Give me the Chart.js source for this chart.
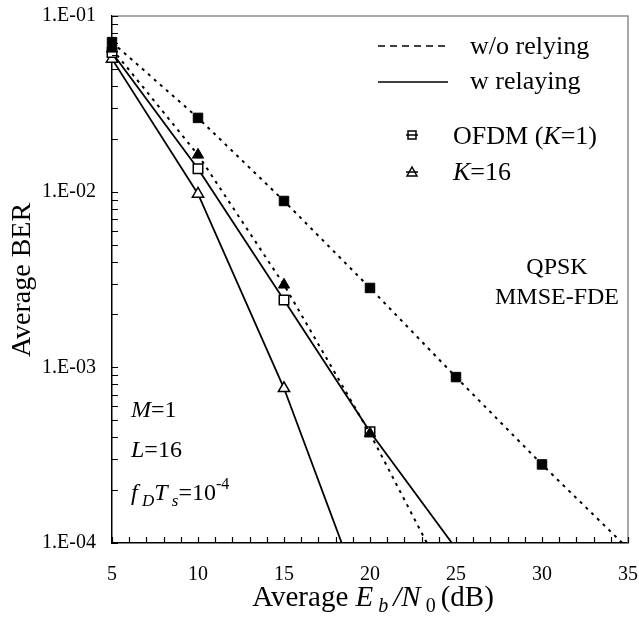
<!DOCTYPE html>
<html>
<head>
<meta charset="utf-8">
<script src="https://cdn.jsdelivr.net/npm/chart.js@4.4.1/dist/chart.umd.min.js"></script>
<style>
  html, body { margin: 0; padding: 0; background: #fff; }
</style>
</head>
<body>
<canvas id="c" width="639" height="621"></canvas>
<script>
// Eb/N0 in dB
const snr = [5, 10, 15, 20, 25, 30, 35];
// average BER
const ofdmNoRelay = [7.1e-2, 2.63e-2, 8.85e-3, 2.83e-3, 8.8e-4, 2.8e-4, 9.3e-5];
const k16NoRelay = [6.5e-2, 1.62e-2, 2.95e-3, 4.2e-4, 4.8e-5];
const ofdmRelay = [6.2e-2, 1.35e-2, 2.42e-3, 4.3e-4, 9.3e-5];
const k16Relay = [5.7e-2, 9.7e-3, 7.6e-4, 3.7e-5];
const yTicks = [1e-4, 1e-3, 1e-2, 1e-1];

const serif = '"Liberation Serif", "Times New Roman", serif';

function pts(vals) {
  return vals.map((v, i) => ({ x: snr[i], y: v }));
}

function font(r, size) {
  return (r.i ? 'italic ' : '') + Math.round(size * (r.s || 1)) + 'px ' + serif;
}

// draws a row of text pieces (italic, subscript, superscript)
function drawRuns(ctx, x, y, runs, size, align) {
  let w = 0;
  runs.forEach(r => { ctx.font = font(r, size); r.w = ctx.measureText(r.t).width; w += r.w; });
  let cx = align === 'center' ? x - w / 2 : x;
  ctx.textAlign = 'left';
  ctx.textBaseline = 'middle';
  runs.forEach(r => {
    ctx.font = font(r, size);
    ctx.fillText(r.t, cx, y + (r.dy || 0) * size);
    cx += r.w;
  });
}

function marker(ctx, style, x, y, fill) {
  ctx.save();
  ctx.lineWidth = 1.5;
  ctx.strokeStyle = '#000';
  ctx.fillStyle = fill ? '#000' : '#fff';
  ctx.beginPath();
  if (style === 'rect') {
    ctx.rect(x - 4, y - 4, 8, 8);
  } else {
    ctx.moveTo(x, y - 5);
    ctx.lineTo(x + 5, y + 4);
    ctx.lineTo(x - 5, y + 4);
    ctx.closePath();
  }
  ctx.fill();
  ctx.stroke();
  ctx.beginPath();
  ctx.moveTo(x - 6, y);
  ctx.lineTo(x + 6, y);
  ctx.stroke();
  ctx.restore();
}

const extras = {
  id: 'extras',
  afterDraw(chart) {
    const ctx = chart.ctx, a = chart.chartArea;
    const xs = chart.scales.x, ys = chart.scales.y;
    ctx.save();
    // top and right frame
    ctx.strokeStyle = '#8c8c8c';
    ctx.lineWidth = 1.5;
    ctx.beginPath();
    ctx.moveTo(a.left, a.top);
    ctx.lineTo(a.right, a.top);
    ctx.lineTo(a.right, a.bottom);
    ctx.stroke();

    // inward tick marks
    ctx.strokeStyle = '#000';
    ctx.lineWidth = 1.2;
    ctx.beginPath();
    for (let v = 5; v <= 35; v++) {
      const px = Math.round(xs.getPixelForValue(v)) + 0.5;
      ctx.moveTo(px, a.bottom);
      ctx.lineTo(px, a.bottom - 6);
    }
    for (let d = -4; d <= -1; d++) {
      for (let m = 1; m <= 9; m++) {
        const v = m * Math.pow(10, d);
        if (v > 0.1 * 1.0001) break;
        const py = Math.round(ys.getPixelForValue(v)) + 0.5;
        ctx.moveTo(a.left, py);
        ctx.lineTo(a.left + 6, py);
      }
    }
    ctx.stroke();

    // legend
    ctx.fillStyle = '#000';
    ctx.lineWidth = 1.5;
    ctx.setLineDash([7, 5]);
    ctx.beginPath();
    ctx.moveTo(378, 46); ctx.lineTo(448, 46);
    ctx.stroke();
    ctx.setLineDash([]);
    ctx.beginPath();
    ctx.moveTo(378, 82); ctx.lineTo(448, 82);
    ctx.stroke();
    drawRuns(ctx, 470, 47, [{ t: 'w/o relying' }], 25.5, 'left');
    drawRuns(ctx, 470, 82, [{ t: 'w relaying' }], 25.5, 'left');
    marker(ctx, 'rect', 412, 135, false);
    marker(ctx, 'triangle', 412, 172, false);
    drawRuns(ctx, 453, 137, [{ t: 'OFDM (' }, { t: 'K', i: 1 }, { t: '=1)' }], 25.5, 'left');
    drawRuns(ctx, 453, 173, [{ t: 'K', i: 1 }, { t: '=16' }], 25.5, 'left');

    // annotations
    drawRuns(ctx, 557, 268, [{ t: 'QPSK' }], 24, 'center');
    drawRuns(ctx, 557, 298, [{ t: 'MMSE-FDE' }], 24, 'center');
    drawRuns(ctx, 131, 411, [{ t: 'M', i: 1 }, { t: '=1' }], 24, 'left');
    drawRuns(ctx, 131, 451, [{ t: 'L', i: 1 }, { t: '=16' }], 24, 'left');
    drawRuns(ctx, 131, 494, [
      { t: 'f', i: 1 }, { t: ' D', i: 1, s: 0.7, dy: 0.3 },
      { t: 'T', i: 1 }, { t: ' s', i: 1, s: 0.7, dy: 0.3 },
      { t: '=10' }, { t: '-4', s: 0.65, dy: -0.4 }
    ], 24, 'left');

    // axis titles
    drawRuns(ctx, 373, 598, [
      { t: 'Average ' }, { t: 'E', i: 1 }, { t: ' b ', i: 1, s: 0.7, dy: 0.3 },
      { t: '/N', i: 1 }, { t: ' 0 ', s: 0.7, dy: 0.3 }, { t: '(dB)' }
    ], 29, 'center');
    ctx.translate(23, 280);
    ctx.rotate(-Math.PI / 2);
    drawRuns(ctx, 0, 0, [{ t: 'Average BER' }], 28, 'center');
    ctx.restore();
  }
};

const clipArea = { left: 12, top: 12, right: 0, bottom: 0 };

new Chart(document.getElementById('c'), {
  type: 'line',
  data: {
    datasets: [
      {
        label: 'OFDM w/o relaying', data: pts(ofdmNoRelay),
        borderColor: '#000', borderWidth: 2, borderDash: [3, 5],
        pointStyle: 'rect', pointRadius: 6.7, pointBackgroundColor: '#000',
        pointBorderColor: '#000', pointBorderWidth: 1, clip: clipArea
      },
      {
        label: 'K=16 w/o relaying', data: pts(k16NoRelay),
        borderColor: '#000', borderWidth: 2, borderDash: [3, 5],
        pointStyle: 'triangle', pointRadius: 6.5, pointBackgroundColor: '#000',
        pointBorderColor: '#000', pointBorderWidth: 1, clip: clipArea
      },
      {
        label: 'OFDM w relaying', data: pts(ofdmRelay),
        borderColor: '#000', borderWidth: 1.8,
        pointStyle: 'rect', pointRadius: 6.7, pointBackgroundColor: '#fff',
        pointBorderColor: '#000', pointBorderWidth: 1.5, clip: clipArea
      },
      {
        label: 'K=16 w relaying', data: pts(k16Relay),
        borderColor: '#000', borderWidth: 1.8,
        pointStyle: 'triangle', pointRadius: 6.5, pointBackgroundColor: '#fff',
        pointBorderColor: '#000', pointBorderWidth: 1.5, clip: clipArea
      }
    ]
  },
  options: {
    responsive: false,
    devicePixelRatio: 1,
    animation: false,
    layout: { padding: { top: 16, right: 11, left: 0, bottom: 0 } },
    plugins: { legend: { display: false }, tooltip: { enabled: false } },
    scales: {
      x: {
        type: 'linear', min: 5, max: 35,
        ticks: { stepSize: 5, color: '#000', padding: 20, font: { family: serif, size: 20 } },
        grid: { display: false, drawTicks: false },
        border: { color: '#000', width: 1.5 },
        afterFit(s) { s.height = 78; s.paddingLeft = 0; s.paddingRight = 0; }
      },
      y: {
        type: 'logarithmic', min: 1e-4, max: 1e-1,
        afterBuildTicks(s) { s.ticks = yTicks.map(v => ({ value: v })); },
        ticks: {
          color: '#000', padding: 16, font: { family: serif, size: 20 },
          callback(v) {
            const e = Math.round(Math.log10(v));
            return '1.E' + (e < 0 ? '-' : '+') + String(Math.abs(e)).padStart(2, '0');
          }
        },
        grid: { display: false, drawTicks: false },
        border: { color: '#000', width: 1.5 },
        afterFit(s) { s.width = 112; s.paddingTop = 0; s.paddingBottom = 0; }
      }
    }
  },
  plugins: [extras]
});
</script>
</body>
</html>
